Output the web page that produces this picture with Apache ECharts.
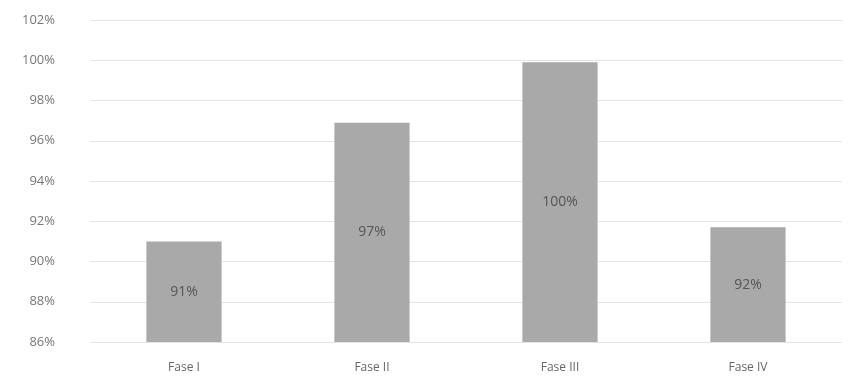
<!DOCTYPE html>
<html><head><meta charset="utf-8">
<script src="https://cdn.jsdelivr.net/npm/echarts@6/dist/echarts.min.js"></script>
<style>html,body{margin:0;padding:0;background:#fff}#c{width:851px;height:391px}</style>
</head><body><div id="c"></div>
<script>
const categories = ["Fase I", "Fase II", "Fase III", "Fase IV"];
const values = [91.0, 96.9, 99.9, 91.7];
const labels = ["91%", "97%", "100%", "92%"];
const yMin = 86, yMax = 102, yStep = 2;

const chart = echarts.init(document.getElementById('c'));
chart.setOption({
  animation: false,
  backgroundColor: '#ffffff',
  grid: {left: 90, right: 9, top: 20, bottom: 49},
  xAxis: {
    type: 'category', data: categories,
    axisLine: {show: false}, axisTick: {show: false},
    axisLabel: {color: '#666', fontFamily: 'Open Sans', fontSize: 12, margin: 20}
  },
  yAxis: {
    type: 'value', min: yMin, max: yMax, interval: yStep,
    axisLine: {show: false}, axisTick: {show: false},
    splitLine: {lineStyle: {color: '#e4e4e4', width: 1}},
    axisLabel: {color: '#777', fontFamily: 'Open Sans', fontSize: 13, margin: 35,
      formatter: v => v + '%'}
  },
  series: [{
    type: 'bar', data: values, barWidth: '40%',
    itemStyle: {color: '#a9a9a9'},
    label: {show: true, position: 'inside', color: '#555', fontSize: 14,
      fontFamily: 'Open Sans',
      formatter: p => labels[p.dataIndex]}
  }]
});
</script></body></html>
